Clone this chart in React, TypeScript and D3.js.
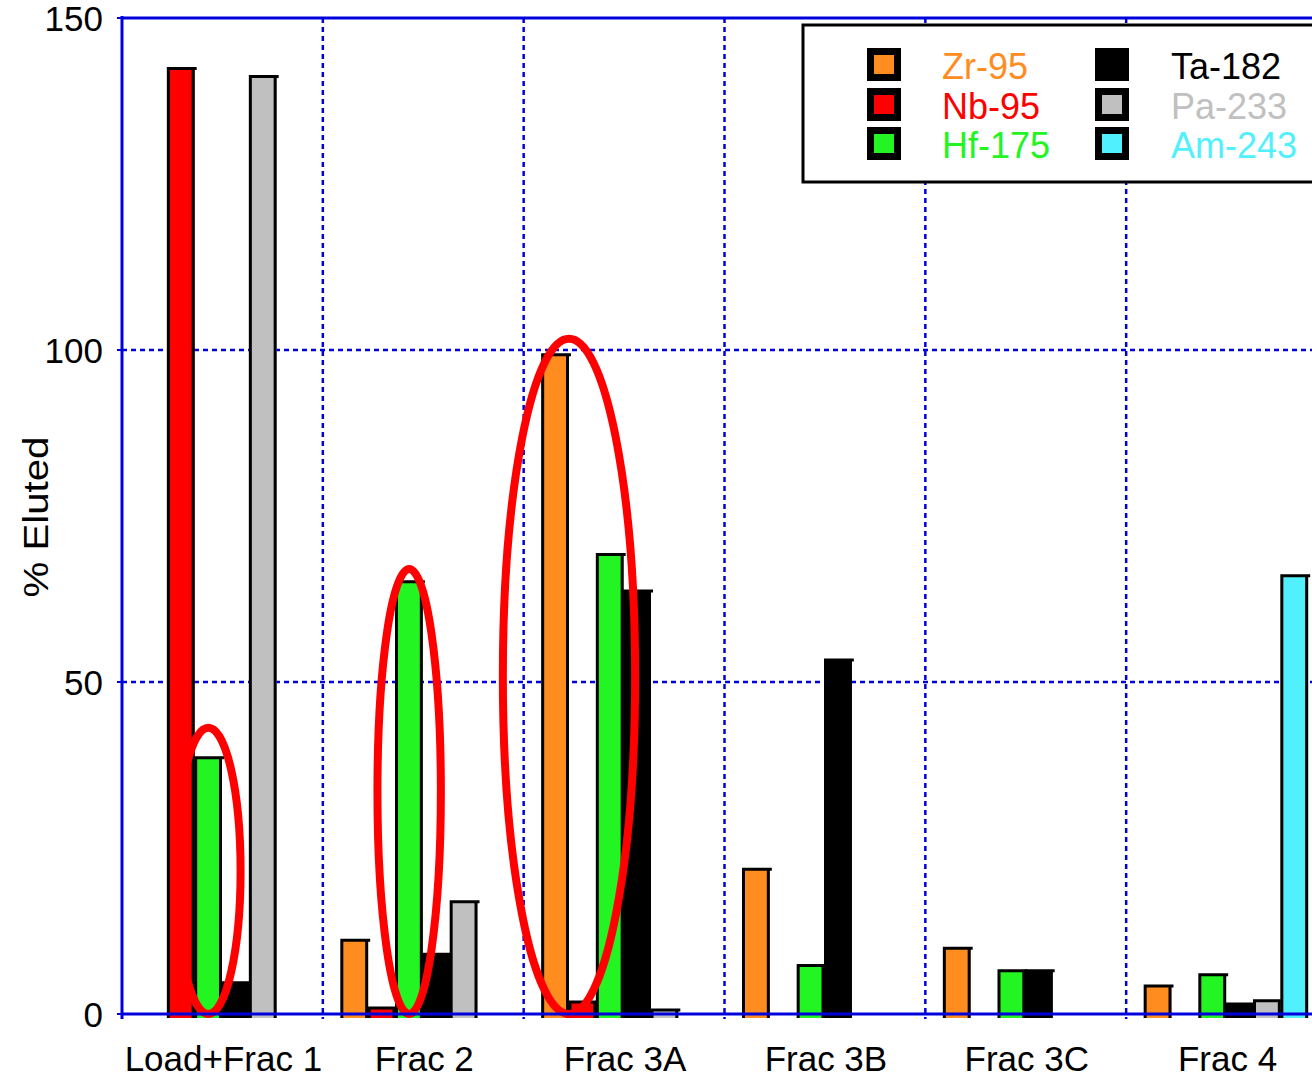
import React from "react";
import * as d3 from "d3";

const categories = ["Load+Frac 1", "Frac 2", "Frac 3A", "Frac 3B", "Frac 3C", "Frac 4"];
const seriesNames = ["Zr-95", "Nb-95", "Hf-175", "Ta-182", "Pa-233", "Am-243"];
const seriesColors = ["#FF8C1E", "#FF0000", "#22F522", "#000000", "#C0C0C0", "#50F0FF"];
const labelColors = ["#FF8C1E", "#FF0000", "#22F522", "#000000", "#C0C0C0", "#50F0FF"];
const zr95 = [0, 11.1, 99.3, 21.8, 9.9, 4.2];
const nb95 = [142.4, 0.9, 1.8, 0, 0, 0];
const hf175 = [38.6, 65.1, 69.2, 7.3, 6.5, 5.9];
const ta182 = [4.7, 9.0, 63.7, 53.3, 6.5, 1.5];
const pa233 = [141.2, 16.9, 0.6, 0, 0, 2.0];
const am243 = [0, 0, 0, 0, 0, 66.0];
const seriesValues = [zr95, nb95, hf175, ta182, pa233, am243];
const yTicks = [0, 50, 100, 150];
// annotation ellipses: group, slot position (in series slots), value top/bottom, half width in slots
const ellipseGroup = [0, 1, 2];
const ellipseSlot = [2.5, 2.5, 1.0];
const ellipseTop = [43.1, 67.0, 101.7];
const ellipseBottom = [0, 0, 0];
const ellipseHalfSlots = [1.18, 1.16, 2.42];

export default function App() {
  const W = 1312, H = 1079;
  const left = 122, right = 1327, top = 18, bottom = 1014;
  const x = d3.scaleBand<string>().domain(categories).range([left, right]).padding(0);
  const gw = x.bandwidth();
  const slot = d3.scaleBand<string>().domain(seriesNames).range([18, 182]).padding(0);
  const sw = slot.bandwidth();
  const y = d3.scaleLinear().domain([0, 150]).range([bottom, top]);
  const font = "Liberation Sans, Arial, sans-serif";
  const blue = "#0000DD";

  const bars: React.ReactNode[] = [];
  seriesValues.forEach((vals, si) => {
    vals.forEach((v, ci) => {
      if (v <= 0) return;
      const x0 = (x(categories[ci]) as number) + (slot(seriesNames[si]) as number);
      const yt = y(v);
      const yb = bottom + 4;
      bars.push(
        <g key={`${si}-${ci}`}>
          <rect x={x0} y={yt} width={sw} height={yb - yt} fill={seriesColors[si]} />
          <path
            d={`M${x0 + 1},${yb} L${x0 + 1},${yt} L${x0 + sw + 2},${yt} M${x0 + sw - 1.5},${yt} L${x0 + sw - 1.5},${yb}`}
            stroke="#000"
            strokeWidth={3}
            fill="none"
          />
        </g>
      );
    });
  });

  const ellipses = ellipseGroup.map((g, i) => {
    const cx = (x(categories[g]) as number) + 18 + ellipseSlot[i] * sw;
    const yt = y(ellipseTop[i]);
    const yb = y(ellipseBottom[i]);
    return (
      <ellipse
        key={i}
        cx={cx}
        cy={(yt + yb) / 2}
        rx={ellipseHalfSlots[i] * sw}
        ry={(yb - yt) / 2}
        fill="none"
        stroke="#FF0000"
        strokeWidth={8}
      />
    );
  });

  const legendX = 803, legendY = 25;
  const legendCols = [867, 1095];
  const legendTextCols = [942, 1171];
  const legendRows = [65, 105, 144];

  return (
    <svg width={W} height={H} style={{ position: "fixed", left: 0, top: 0, background: "#fff" }}>
      <rect x={0} y={0} width={W} height={H} fill="#fff" />
      {/* gridlines */}
      {yTicks.filter((t) => t > 0 && t < 150).map((t) => (
        <line key={`h${t}`} x1={left} x2={right} y1={y(t)} y2={y(t)} stroke={blue} strokeWidth={2.5} strokeDasharray="5,4" />
      ))}
      {categories.slice(1).map((c) => (
        <line key={`v${c}`} x1={x(c)} x2={x(c)} y1={top} y2={bottom + 5} stroke={blue} strokeWidth={2.5} strokeDasharray="5,4" />
      ))}
      <line x1={left} x2={right} y1={top} y2={top} stroke={blue} strokeWidth={3} />
      {bars}
      {ellipses}
      {/* axes */}
      <line x1={left} x2={left} y1={top - 2} y2={bottom + 5} stroke={blue} strokeWidth={3} />
      <line x1={left} x2={right} y1={bottom} y2={bottom} stroke={blue} strokeWidth={3} />
      {yTicks.map((t) => (
        <g key={`yt${t}`}>
          <line x1={left - 5} x2={left} y1={y(t)} y2={y(t)} stroke={blue} strokeWidth={2} />
          <text x={103} y={y(t)} dy="0.36em" textAnchor="end" fontFamily={font} fontSize={35} fill="#000">
            {t}
          </text>
        </g>
      ))}
      {categories.map((c) => (
        <text key={`xl${c}`} x={(x(c) as number) + gw / 2 + 1} y={1071} textAnchor="middle" fontFamily={font} fontSize={35} fill="#000">
          {c}
        </text>
      ))}
      <text
        transform={`translate(48,517) rotate(-90)`}
        textAnchor="middle"
        fontFamily={font}
        fontSize={35}
        textLength={161}
        lengthAdjust="spacingAndGlyphs"
        fill="#000"
      >
        % Eluted
      </text>
      {/* legend */}
      <rect x={legendX} y={legendY} width={W} height={157} fill="#fff" stroke="#000" strokeWidth={3} />
      {seriesNames.map((n, i) => {
        const col = Math.floor(i / 3), row = i % 3;
        const sx = legendCols[col], cy = legendRows[row];
        return (
          <g key={`lg${n}`}>
            <rect x={sx} y={cy - 17} width={34} height={33} fill="#000" />
            <rect x={sx + 7} y={cy - 10} width={20} height={19} fill={seriesColors[i]} />
            <text x={legendTextCols[col]} y={cy + 1} dy="0.36em" fontFamily={font} fontSize={36} fill={labelColors[i]}>
              {n}
            </text>
          </g>
        );
      })}
    </svg>
  );
}
